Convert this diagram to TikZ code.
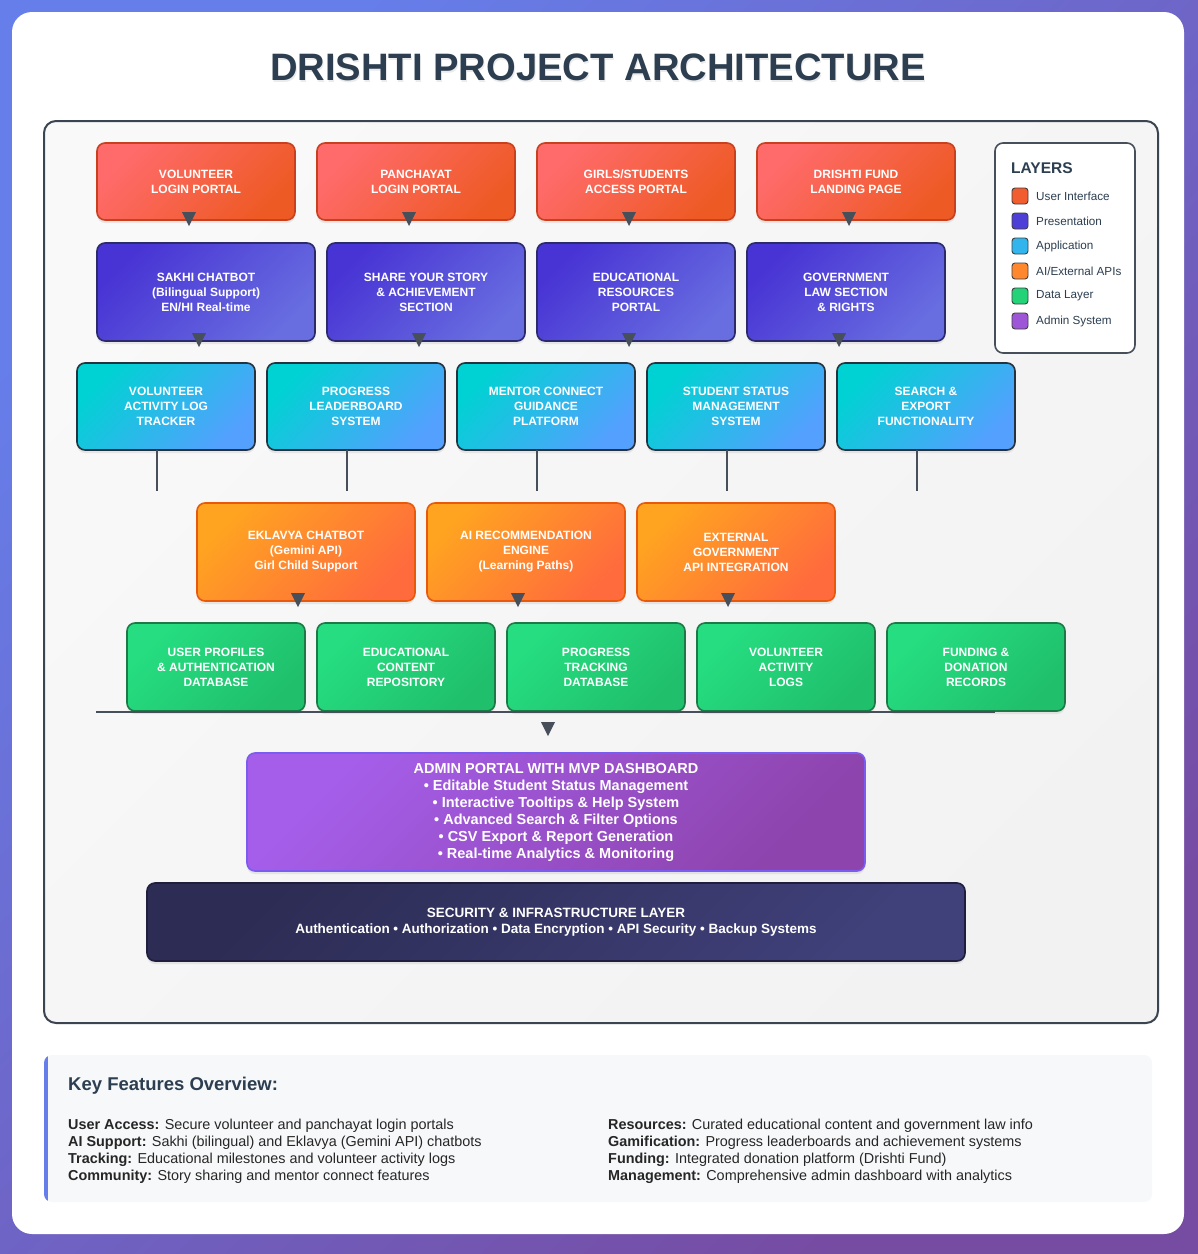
\documentclass[tikz,border=0pt]{standalone}
\usepackage{fontspec}
\setmainfont{Liberation Sans}
\usetikzlibrary{positioning,calc,shadows}

\definecolor{bgA}{HTML}{667EEA}
\definecolor{bgB}{HTML}{764BA2}
\definecolor{ink}{HTML}{2C3E50}
\definecolor{pnlD}{HTML}{3B4552}
\definecolor{uiA}{HTML}{FF6B6B}
\definecolor{uiB}{HTML}{EE5A24}
\definecolor{uiD}{HTML}{C9401F}
\definecolor{prA}{HTML}{4834D4}
\definecolor{prB}{HTML}{686DE0}
\definecolor{prD}{HTML}{2B2A6B}
\definecolor{apA}{HTML}{00D2D3}
\definecolor{apB}{HTML}{54A0FF}
\definecolor{apD}{HTML}{25323F}
\definecolor{aiA}{HTML}{FFA420}
\definecolor{aiB}{HTML}{FF6B3D}
\definecolor{aiD}{HTML}{E8590C}
\definecolor{dtA}{HTML}{26DE81}
\definecolor{dtB}{HTML}{20BF6B}
\definecolor{dtD}{HTML}{1D7A47}
\definecolor{adA}{HTML}{A55EEA}
\definecolor{adB}{HTML}{8E44AD}
\definecolor{adD}{HTML}{7A5CF0}
\definecolor{scA}{HTML}{2C2C54}
\definecolor{scB}{HTML}{40407A}
\definecolor{scD}{HTML}{1F1F3D}
\definecolor{triC}{HTML}{464F5A}
\definecolor{kbg}{HTML}{F7F8FA}

\begin{document}
\begin{tikzpicture}[x=1pt,y=-1pt,
	box/.style={rounded corners=8pt, line width=1.6pt, minimum width=198pt, inner sep=0pt, outer sep=0pt, align=center, text=white,
		font=\fontsize{12}{15}\selectfont\bfseries, drop shadow={opacity=0.15, shadow xshift=0pt, shadow yshift=-3pt}},
	ui/.style={box, minimum height=77pt, top color=uiA, bottom color=uiB, shading angle=45, draw=uiD},
	pr/.style={box, minimum height=98pt, top color=prA, bottom color=prB, shading angle=45, draw=prD},
	ap/.style={box, minimum width=178pt, minimum height=87pt, top color=apA, bottom color=apB, shading angle=45, draw=apD},
	ai/.style={box, minimum height=98pt, top color=aiA, bottom color=aiB, shading angle=45, draw=aiD},
	dt/.style={box, minimum width=178pt, minimum height=88pt, top color=dtA, bottom color=dtB, shading angle=45, draw=dtD},
	tri/.style={fill=triC},
	ln/.style={draw=triC, line width=2pt},
	sw/.style={draw=black!75, line width=0.9pt, rounded corners=3pt, minimum size=16pt, inner sep=0pt, outer sep=0pt},
	lgtxt/.style={inner sep=0pt, anchor=west, text=ink, font=\fontsize{11.7}{13}\selectfont},
	kt/.style={inner sep=0pt, align=left, text=black!85, font=\fontsize{14.4}{17}\selectfont}]
	\useasboundingbox (0,0) rectangle (1198,1254);
	\shade[top color=bgA, bottom color=bgB, shading angle=45] (0,0) rectangle (1198,1254);
	\fill[white, rounded corners=20pt] (12,12) rectangle (1184,1234);
	\node[text=black, opacity=0.08, font=\fontsize{38.2}{40}\selectfont\bfseries] (ts) at (599,69) {DRISHTI PROJECT ARCHITECTURE};
	\node[text=ink, font=\fontsize{38.2}{40}\selectfont\bfseries] (ttl) at (598,67) {DRISHTI PROJECT ARCHITECTURE};
	\shade[draw=pnlD, line width=2pt, rounded corners=12pt, top color=white!95!gray, bottom color=white!90!gray, shading angle=45] (44,121) rectangle (1158,1023);
	%
	\node[ui] (u1) at (196,181.5) {VOLUNTEER\\LOGIN PORTAL};
	\node[ui, right=22pt of u1] (u2) {PANCHAYAT\\LOGIN PORTAL};
	\node[ui, right=22pt of u2] (u3) {GIRLS/STUDENTS\\ACCESS PORTAL};
	\node[ui, right=22pt of u3] (u4) {DRISHTI FUND\\LANDING PAGE};
	%
	\node[pr, minimum width=218pt] (p1) at (206,292) {SAKHI CHATBOT\\(Bilingual Support)\\EN/HI Real-time};
	\node[pr, right=12pt of p1] (p2) {SHARE YOUR STORY\\\& ACHIEVEMENT\\SECTION};
	\node[pr, right=12pt of p2] (p3) {EDUCATIONAL\\RESOURCES\\PORTAL};
	\node[pr, right=12pt of p3] (p4) {GOVERNMENT\\LAW SECTION\\\& RIGHTS};
	%
	\node[ap] (a1) at (166,406.5) {VOLUNTEER\\ACTIVITY LOG\\TRACKER};
	\node[ap, right=12pt of a1] (a2) {PROGRESS\\LEADERBOARD\\SYSTEM};
	\node[ap, right=12pt of a2] (a3) {MENTOR CONNECT\\GUIDANCE\\PLATFORM};
	\node[ap, right=12pt of a3] (a4) {STUDENT STATUS\\MANAGEMENT\\SYSTEM};
	\node[ap, right=12pt of a4] (a5) {SEARCH \&\\EXPORT\\FUNCTIONALITY};
	%
	\node[ai, minimum width=218pt] (e1) at (306,552) {EKLAVYA CHATBOT\\(Gemini API)\\Girl Child Support};
	\node[ai, right=12pt of e1] (e2) {AI RECOMMENDATION\\ENGINE\\(Learning Paths)};
	\node[ai, right=12pt of e2] (e3) {EXTERNAL\\GOVERNMENT\\API INTEGRATION};
	%
	\node[dt] (d1) at (216,667) {USER PROFILES\\\& AUTHENTICATION\\DATABASE};
	\node[dt, right=12pt of d1] (d2) {EDUCATIONAL\\CONTENT\\REPOSITORY};
	\node[dt, right=12pt of d2] (d3) {PROGRESS\\TRACKING\\DATABASE};
	\node[dt, right=12pt of d3] (d4) {VOLUNTEER\\ACTIVITY\\LOGS};
	\node[dt, right=12pt of d4] (d5) {FUNDING \&\\DONATION\\RECORDS};
	%
	\node[box, minimum width=618pt, minimum height=118pt, top color=adA, bottom color=adB, shading angle=45, draw=adD,
		font=\fontsize{14.5}{17}\selectfont\bfseries] (adm) at (556,812)
		{ADMIN PORTAL WITH MVP DASHBOARD\\• Editable Student Status Management\\• Interactive Tooltips \& Help System\\
		• Advanced Search \& Filter Options\\• CSV Export \& Report Generation\\• Real-time Analytics \& Monitoring};
	\node[box, minimum width=818pt, minimum height=78pt, top color=scA, bottom color=scB, shading angle=45, draw=scD,
		font=\fontsize{13.5}{16}\selectfont\bfseries] (sec) at (556,922)
		{SECURITY \& INFRASTRUCTURE LAYER\\Authentication • Authorization • Data Encryption • API Security • Backup Systems};
	%
	\fill[tri] ($(u1.south)+(-14,-8)$) -- ++(14,0) -- ++(-7,14) -- cycle;
	\fill[tri] ($(u2.south)+(-14,-8)$) -- ++(14,0) -- ++(-7,14) -- cycle;
	\fill[tri] ($(u3.south)+(-14,-8)$) -- ++(14,0) -- ++(-7,14) -- cycle;
	\fill[tri] ($(u4.south)+(-14,-8)$) -- ++(14,0) -- ++(-7,14) -- cycle;
	\fill[tri] ($(p1.south)+(-14,-8)$) -- ++(14,0) -- ++(-7,14) -- cycle;
	\fill[tri] ($(p2.south)+(-14,-8)$) -- ++(14,0) -- ++(-7,14) -- cycle;
	\fill[tri] ($(p3.south)+(-14,-8)$) -- ++(14,0) -- ++(-7,14) -- cycle;
	\fill[tri] ($(p4.south)+(-14,-8)$) -- ++(14,0) -- ++(-7,14) -- cycle;
	\fill[tri] ($(e1.south)+(-15,-8)$) -- ++(14,0) -- ++(-7,14) -- cycle;
	\fill[tri] ($(e2.south)+(-15,-8)$) -- ++(14,0) -- ++(-7,14) -- cycle;
	\fill[tri] ($(e3.south)+(-15,-8)$) -- ++(14,0) -- ++(-7,14) -- cycle;
	%
	\coordinate (l1) at ($(a1.south)+(-9,41)$);
	\coordinate (l2) at ($(a2.south)+(-9,41)$);
	\coordinate (l3) at ($(a3.south)+(-9,41)$);
	\coordinate (l4) at ($(a4.south)+(-9,41)$);
	\coordinate (l5) at ($(a5.south)+(-9,41)$);
	\draw[ln] (a1.south -| l1) -- (l1);
	\draw[ln] (a2.south -| l2) -- (l2);
	\draw[ln] (a3.south -| l3) -- (l3);
	\draw[ln] (a4.south -| l4) -- (l4);
	\draw[ln] (a5.south -| l5) -- (l5);
	%
	\coordinate (h1) at (96,712);
	\coordinate (h2) at (995,712);
	\draw[ln] (h1) -- (h2);
	\fill[tri] ($(h1)!0.5!(h2)+(-4.5,10)$) -- ++(14,0) -- ++(-7,14) -- cycle;
	%
	\node[draw=triC, line width=1.6pt, fill=white, rounded corners=8pt, minimum width=140pt, minimum height=210pt] (lg) at (1065,248) {};
	\node[inner sep=0pt, anchor=west, text=ink, font=\fontsize{15.5}{18}\selectfont\bfseries] (lh) at (1011,168) {LAYERS};
	\node[sw, fill=uiB!85!uiA] (s1) at (1020,196) {};
	\node[sw, fill=prA!80!prB, below=9pt of s1] (s2) {};
	\node[sw, fill=apA!40!apB, below=9pt of s2] (s3) {};
	\node[sw, fill=aiA!50!aiB, below=9pt of s3] (s4) {};
	\node[sw, fill=dtA!60!dtB, below=9pt of s4] (s5) {};
	\node[sw, fill=adA!70!adB, below=9pt of s5] (s6) {};
	\node[lgtxt, right=8pt of s1] (t1) {User Interface};
	\node[lgtxt, right=8pt of s2] (t2) {Presentation};
	\node[lgtxt, right=8pt of s3] (t3) {Application};
	\node[lgtxt, right=8pt of s4] (t4) {AI/External APIs};
	\node[lgtxt, right=8pt of s5] (t5) {Data Layer};
	\node[lgtxt, right=8pt of s6] (t6) {Admin System};
	%
	\fill[kbg, rounded corners=8pt] (44,1055) rectangle (1152,1202);
	\begin{scope}
		\clip[rounded corners=8pt] (44,1055) rectangle (1152,1202);
		\fill[bgA] (44,1055) rectangle (48,1202);
	\end{scope}
	\node[inner sep=0pt, anchor=west, text=ink, font=\fontsize{18.5}{21}\selectfont\bfseries] (kh) at (68,1086) {Key Features Overview:};
	\node[kt, anchor=north west] (k1) at (68,1119) {\textbf{User Access:} Secure volunteer and panchayat login portals\\
		\textbf{AI Support:} Sakhi (bilingual) and Eklavya (Gemini API) chatbots\\
		\textbf{Tracking:} Educational milestones and volunteer activity logs\\
		\textbf{Community:} Story sharing and mentor connect features};
	\node[kt, anchor=north west] (k2) at (608,1119) {\textbf{Resources:} Curated educational content and government law info\\
		\textbf{Gamification:} Progress leaderboards and achievement systems\\
		\textbf{Funding:} Integrated donation platform (Drishti Fund)\\
		\textbf{Management:} Comprehensive admin dashboard with analytics};
\end{tikzpicture}
\end{document}
